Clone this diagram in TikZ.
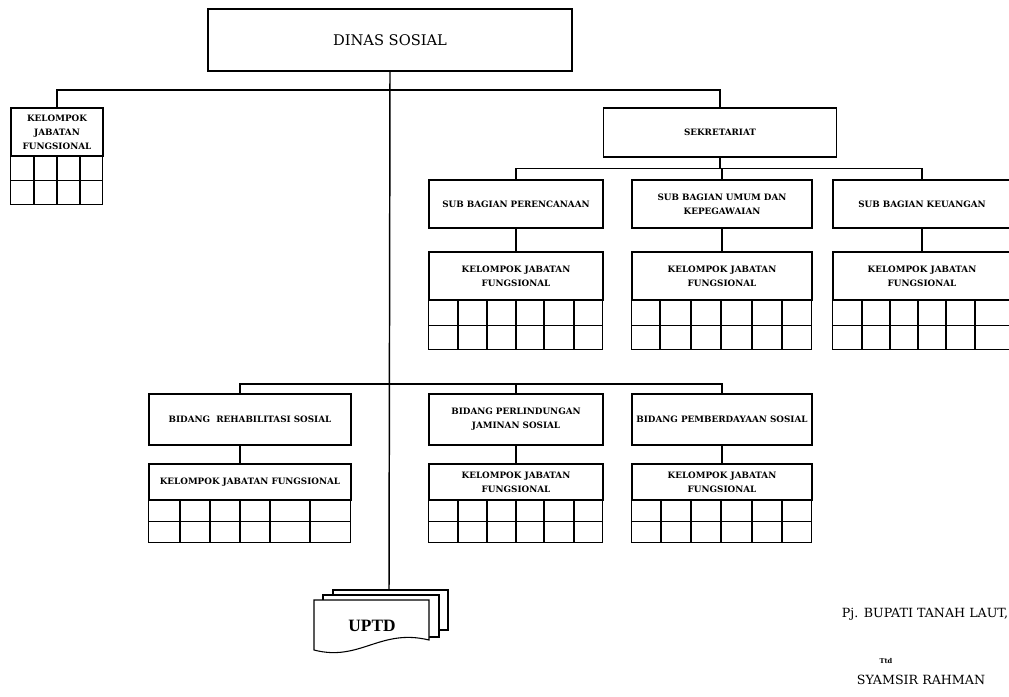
\documentclass[tikz,border=0pt]{standalone}
\usepackage{fontspec}
\setmainfont{DejaVu Serif}
\newfontfamily\uptdfont{Liberation Serif}
\usepackage{tikz}
\usetikzlibrary{positioning}

\tikzset{
unit/.style={draw, line width=1.1pt, align=center, inner sep=1pt,
  font=\fontsize{6.6}{10.5}\selectfont\bfseries},
wh/.style 2 args={minimum width=#1*0.75pt, minimum height=#2*0.75pt},
link/.style={line width=1.1pt},
gridline/.style={line width=1.1pt}
}

\begin{document}
\begin{tikzpicture}[x=0.75pt, y=-0.75pt]
\useasboundingbox (0,0) rectangle (1009,696);

\node[unit, wh={364}{62}, font=\fontsize{11}{13}\selectfont] (dinas) at (390,40) {DINAS SOSIAL};

\coordinate (hub1) at (389,90);
\coordinate (hub2) at (389,384);
\coordinate (uptdtop) at (389,590);

\begin{scope}
{
\node[unit, wh={92}{48}] (kjf0) at (57,132) {KELOMPOK\\JABATAN\\FUNGSIONAL};
\draw[gridline] (kjf0.south west) rectangle ++(92,48);
\draw[gridline] (kjf0.south west) ++(0,24) -- ++(92,0);
\foreach \x in {34,57,80} \draw[gridline] (\x,156) -- (\x,204);
}
\end{scope}

\begin{scope}
{
\node[unit, wh={233}{49}] (sekr) at (720,132.5) {SEKRETARIAT};

\node[unit, wh={174}{48}] (sub1) at (516,204) {SUB BAGIAN PERENCANAAN};
\node[unit, wh={180}{48}] (sub2) at (722,204) {SUB BAGIAN UMUM DAN\\KEPEGAWAIAN};
\node[unit, wh={178}{48}] (sub3) at (922,204) {SUB BAGIAN KEUANGAN};

\node[unit, wh={174}{48}] (kjf1) at (516,276) {KELOMPOK JABATAN\\FUNGSIONAL};
\node[unit, wh={180}{48}] (kjf2) at (722,276) {KELOMPOK JABATAN\\FUNGSIONAL};
\node[unit, wh={178}{48}] (kjf3) at (922,276) {KELOMPOK JABATAN\\FUNGSIONAL};

\draw[gridline] (kjf1.south west) rectangle ++(174,49);
\draw[gridline] (kjf1.south west) ++(0,25) -- ++(174,0);
\foreach \x in {458,487,516,544,574} \draw[gridline] (\x,300) -- (\x,349);

\draw[gridline] (kjf2.south west) rectangle ++(180,49);
\draw[gridline] (kjf2.south west) ++(0,25) -- ++(180,0);
\foreach \x in {660,691,721,752,782} \draw[gridline] (\x,300) -- (\x,349);

\draw[gridline] (kjf3.south west) rectangle ++(178,49);
\draw[gridline] (kjf3.south west) ++(0,25) -- ++(178,0);
\foreach \x in {862,890,918,946,975} \draw[gridline] (\x,300) -- (\x,349);
}
\end{scope}

\begin{scope}
{
\node[unit, wh={202}{51}] (bid1) at (250,419.5) {BIDANG \ REHABILITASI SOSIAL};
\node[unit, wh={174}{51}] (bid2) at (516,419.5) {BIDANG PERLINDUNGAN\\JAMINAN SOSIAL};
\node[unit, wh={180}{51}] (bid3) at (722,419.5) {BIDANG PEMBERDAYAAN SOSIAL};

\node[unit, wh={202}{36}] (kjfb1) at (250,482) {KELOMPOK JABATAN FUNGSIONAL};
\node[unit, wh={174}{36}] (kjfb2) at (516,482) {KELOMPOK JABATAN\\FUNGSIONAL};
\node[unit, wh={180}{36}] (kjfb3) at (722,482) {KELOMPOK JABATAN\\FUNGSIONAL};

\draw[gridline] (kjfb1.south west) rectangle ++(202,42);
\draw[gridline] (kjfb1.south west) ++(0,21) -- ++(202,0);
\foreach \x in {180,210,240,270,310} \draw[gridline] (\x,500) -- (\x,542);

\draw[gridline] (kjfb2.south west) rectangle ++(174,42);
\draw[gridline] (kjfb2.south west) ++(0,21) -- ++(174,0);
\foreach \x in {458,487,516,544,574} \draw[gridline] (\x,500) -- (\x,542);

\draw[gridline] (kjfb3.south west) rectangle ++(180,42);
\draw[gridline] (kjfb3.south west) ++(0,21) -- ++(180,0);
\foreach \x in {661,691,721,752,782} \draw[gridline] (\x,500) -- (\x,542);
}
\end{scope}

% UPTD
\begin{scope}
{
\filldraw[fill=white, line width=0.8pt] (333,590) rectangle (448,630);
\filldraw[fill=white, line width=0.8pt] (323,595) rectangle (439,637);
\filldraw[fill=white, line width=0.8pt] (314,600) -- (429,600) -- (429,640)
  .. controls (380,628) and (360,662) .. (314,650) -- cycle;
\node (uptd) at (372,626) {\uptdfont\fontsize{13}{15}\selectfont\bfseries UPTD};
}
\end{scope}

% connectors
\draw[link] (dinas.south) -- (uptdtop);
\draw[link] (hub1) -| (kjf0.north);
\draw[link] (hub1) -| (sekr.north);
\draw[link] (sekr.south) -- ++(0,11) coordinate (hub3);
\draw[link] (hub3) -| (sub1.north);
\draw[link] (hub3) -| (sub2.north);
\draw[link] (hub3) -| (sub3.north);
\draw[link] (sub1.south) -- (kjf1.north);
\draw[link] (sub2.south) -- (kjf2.north);
\draw[link] (sub3.south) -- (kjf3.north);
\draw[link] (hub2) -| ([xshift=-7.5pt]bid1.north);
\draw[link] (hub2) -| (bid2.north);
\draw[link] (hub2) -| (bid3.north);
\draw[link] ([xshift=-7.5pt]bid1.south) -- ([xshift=-7.5pt]kjfb1.north);
\draw[link] (bid2.south) -- (kjfb2.north);
\draw[link] (bid3.south) -- (kjfb3.north);

% labellings
{
\node (bupati) at (925,614) {\fontsize{9.5}{11}\selectfont Pj. BUPATI TANAH LAUT,};
\node (ttd) at (886,661) {\fontsize{5}{6}\selectfont\bfseries Ttd};
\node (nama) at (921,680) {\fontsize{9.5}{11}\selectfont SYAMSIR RAHMAN};
}

\end{tikzpicture}
\end{document}
